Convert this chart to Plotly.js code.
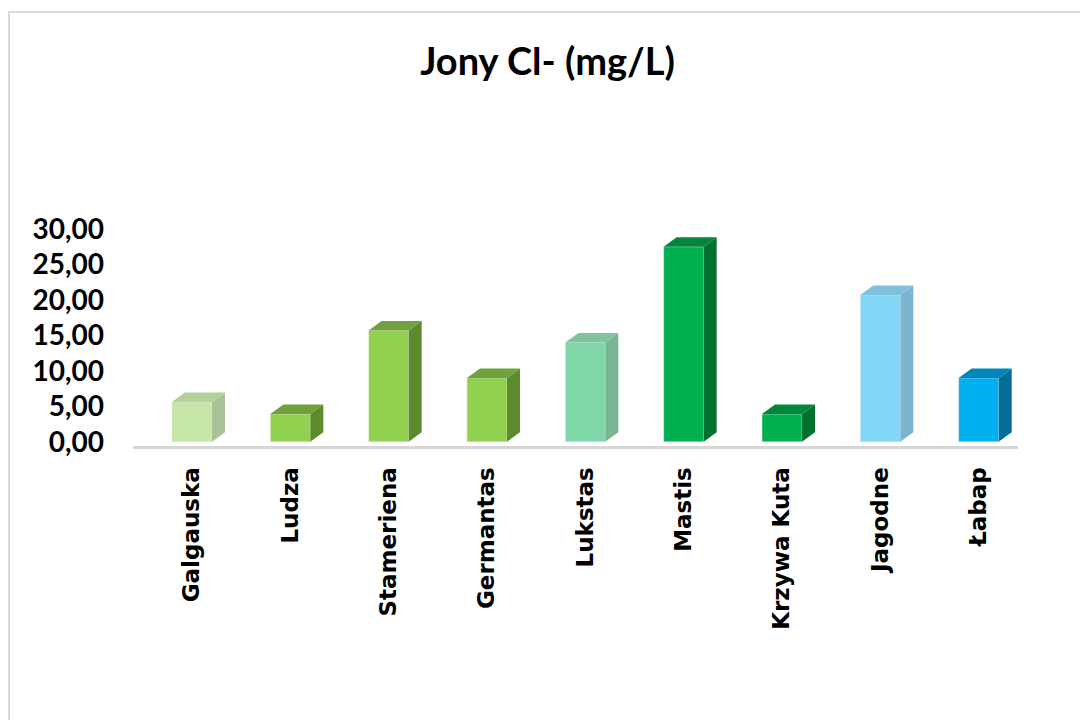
<!DOCTYPE html>
<html>
<head>
<meta charset="utf-8">
<script src="https://cdn.plot.ly/plotly-3.0.1.min.js"></script>
<style>
  html, body { margin: 0; padding: 0; background: #ffffff; }
  #wrap { position: relative; width: 1080px; height: 720px; overflow: hidden; }
  #chart { position: absolute; left: 0; top: 0; width: 1080px; height: 720px; }
  #frame { position: absolute; left: 8px; top: 11px; width: 1200px; height: 800px;
           border-left: 2px solid #d9d9d9; border-top: 2px solid #d9d9d9; pointer-events: none; }
</style>
</head>
<body>
<div id="wrap">
  <div id="chart"></div>
  <div id="frame"></div>
</div>
<script>
// ---- data ----
const categories = ['Galgauska', 'Ludza', 'Stameriena', 'Germantas', 'Lukstas', 'Mastis', 'Krzywa Kuta', 'Jagodne', 'Łabap'];
const values = [5.6, 3.9, 15.7, 9.0, 14.0, 27.5, 3.9, 20.7, 9.0];
const yTickValues = [0, 5, 10, 15, 20, 25, 30];
const chartTitle = 'Jony Cl- (mg/L)';

// ---- styling ----
const frontColors = ['#c6e6a7', '#92d050', '#92d050', '#92d050', '#80d8a8', '#00b050', '#00b050', '#82d6f6', '#00b0f0'];
const topColors   = ['#b3cf9a', '#71a13d', '#71a13d', '#71a13d', '#7fc49c', '#00873d', '#00873d', '#7fc0da', '#0086b8'];
const sideColors  = ['#abc297', '#5e8a2e', '#5e8a2e', '#5e8a2e', '#7ab593', '#007030', '#007030', '#7ab6cf', '#006e98'];

const barW = 0.407;   // bar width in category units
const dX = 0.132;     // depth offset (x units)
const dY = 1.34;      // depth offset (y units)

const xs = categories.map((c, i) => i);
const traces = [];

// front faces
traces.push({
  type: 'bar', x: xs, y: values, width: barW,
  marker: { color: frontColors, line: { color: 'rgba(235,235,235,0.8)', width: 0.6 } },
  hoverinfo: 'skip', showlegend: false
});

// side and top faces (derived from the data values)
values.forEach((v, i) => {
  const l = i - barW / 2, r = i + barW / 2;
  traces.push({
    type: 'scatter', mode: 'lines', fill: 'toself',
    x: [r, r + dX, r + dX, r, r],
    y: [0, dY, v + dY, v, 0],
    fillcolor: sideColors[i], line: { width: 0, color: sideColors[i] },
    hoverinfo: 'skip', showlegend: false
  });
  traces.push({
    type: 'scatter', mode: 'lines', fill: 'toself',
    x: [l, l + dX, r + dX, r, l],
    y: [v, v + dY, v + dY, v, v],
    fillcolor: topColors[i], line: { width: 0, color: topColors[i] },
    hoverinfo: 'skip', showlegend: false
  });
});

const layout = {
  width: 1080, height: 720,
  margin: { l: 133, r: 62, t: 222, b: 274 },
  paper_bgcolor: 'rgba(0,0,0,0)', plot_bgcolor: 'rgba(0,0,0,0)',
  separators: ', ',
  hovermode: false,
  showlegend: false,
  title: {
    text: chartTitle,
    font: { family: 'Lato, "Open Sans", sans-serif', size: 38, weight: 700, color: '#000000' },
    xref: 'container', x: 0.507, xanchor: 'center',
    yref: 'container', y: 0.914, yanchor: 'middle'
  },
  xaxis: {
    range: [-0.6, 8.4],
    tickmode: 'array', tickvals: xs, ticktext: categories,
    tickangle: -90,
    tickfont: { family: '"DejaVu Sans", sans-serif', size: 23, weight: 700, color: '#000000' },
    ticks: '', ticklabelstandoff: 9,
    showgrid: false, zeroline: false,
    showline: true, linecolor: '#d6d6d6', linewidth: 3,
    fixedrange: true
  },
  yaxis: {
    range: [-0.6, 31],
    tickmode: 'array', tickvals: yTickValues,
    tickformat: '.2f',
    tickfont: { family: 'Lato, "Open Sans", sans-serif', size: 28, weight: 700, color: '#000000' },
    ticks: '', ticklabelstandoff: 28,
    showgrid: false, zeroline: false, showline: false,
    fixedrange: true
  }
};

Plotly.newPlot('chart', traces, layout, { displayModeBar: false, staticPlot: true });
</script>
</body>
</html>
